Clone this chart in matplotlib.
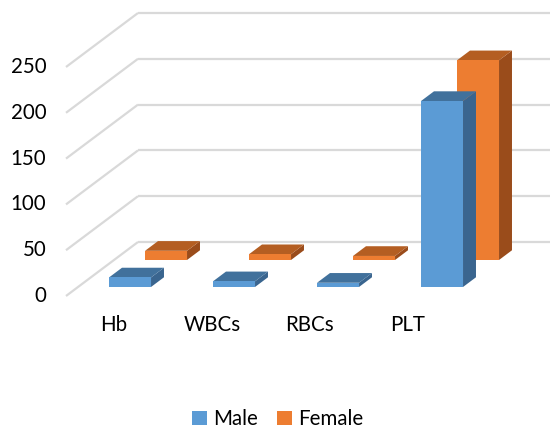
import matplotlib
matplotlib.use("Agg")
import matplotlib.pyplot as plt
from matplotlib.patches import Polygon, Rectangle

categories = ["Hb", "WBCs", "RBCs", "PLT"]
male = [10.4, 6.2, 4.6, 203]
female = [10.0, 6.3, 4.4, 218]
tick_values = [0, 50, 100, 150, 200, 250]
series_names = ["Male", "Female"]

# face colours: front, top, side
male_colors = ("#5B9BD5", "#41719C", "#3A658F")
female_colors = ("#ED7D31", "#B45E22", "#9A4C1B")

W, H = 550, 430
fig = plt.figure(figsize=(W / 100, H / 100), dpi=100)
ax = fig.add_axes([0, 0, 1, 1])

# oblique projection: category unit = 104 px, value unit = 0.916 px
cat_px, val_px = 104.0, 0.916
x0_px, y0_px = 118.0, 296.0
ax.set_xlim((0 - x0_px) / cat_px, (W - x0_px) / cat_px)
ax.set_ylim((y0_px - H) / val_px, y0_px / val_px)
ax.axis("off")

# full floor depth as an offset in data units
DX, DY = 72 / cat_px, 54 / val_px
floor_left = -0.5
bar_w = 42 / cat_px
bar_d = 0.18
rows = [(female, 0.667, female_colors), (male, 0.167, male_colors)]

font = "Lato"
fs = 14.8

grid_c = "#D9D9D9"
for v in tick_values:
    ax.plot([floor_left, floor_left + DX], [v, v + DY], color=grid_c, lw=1.6,
            solid_capstyle="butt", zorder=1)
    ax.plot([floor_left + DX, 10], [v + DY, v + DY], color=grid_c, lw=1.6,
            solid_capstyle="butt", zorder=1)
    ax.text(-0.69, v, str(v), ha="right", va="center", fontsize=fs,
            family=font, color="#000000")

z = 2
for values, depth, (c_front, c_top, c_side) in rows:
    ox, oy = depth * DX, depth * DY
    ddx, ddy = bar_d * DX, bar_d * DY
    for i, v in enumerate(values):
        xa = i - bar_w / 2 + ox
        xb = i + bar_w / 2 + ox
        base, top = oy, oy + v
        ax.add_patch(Polygon([(xb, base), (xb, top), (xb + ddx, top + ddy),
                              (xb + ddx, base + ddy)], closed=True,
                             facecolor=c_side, edgecolor="none", zorder=z))
        ax.add_patch(Polygon([(xa, top), (xb, top), (xb + ddx, top + ddy),
                              (xa + ddx, top + ddy)], closed=True,
                             facecolor=c_top, edgecolor="none", zorder=z))
        ax.add_patch(Rectangle((xa, base), bar_w, v, facecolor=c_front,
                               edgecolor="none", zorder=z))
    z += 1

for i, name in enumerate(categories):
    ax.text(i * 0.942 - 0.04, -31.7, name, ha="center", va="center",
            fontsize=fs, family=font, color="#000000")

handles = [Rectangle((0, 0), 1, 1, facecolor=male_colors[0]),
           Rectangle((0, 0), 1, 1, facecolor=female_colors[0])]
fig.legend(handles, series_names, loc="center", bbox_to_anchor=(0.505, 0.025),
           ncol=2, frameon=False, prop={"family": font, "size": fs},
           handlelength=0.7, handleheight=0.7, handletextpad=0.3,
           columnspacing=0.95, borderaxespad=0)

fig.savefig("out.png", dpi=100)
